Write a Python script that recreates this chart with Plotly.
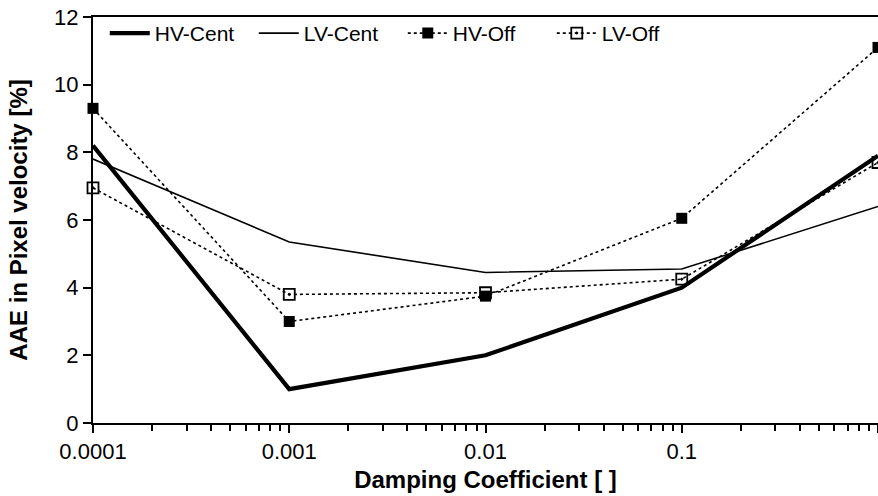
import plotly.graph_objects as go

damping = [0.0001, 0.001, 0.01, 0.1, 1]
x_ticktext = ["0.0001", "0.001", "0.01", "0.1", "1"]
y_ticks = [0, 2, 4, 6, 8, 10, 12]

hv_cent = [8.2, 1.0, 2.0, 4.0, 7.9]
lv_cent = [7.8, 5.35, 4.45, 4.55, 6.4]
hv_off = [9.3, 3.0, 3.75, 6.05, 11.1]
lv_off = [6.95, 3.8, 3.85, 4.25, 7.7]

FONT = "Liberation Sans, Arial, sans-serif"

fig = go.Figure()
fig.add_trace(go.Scatter(x=damping, y=hv_cent, name="HV-Cent", mode="lines",
                         line=dict(color="black", width=4.2), cliponaxis=False))
fig.add_trace(go.Scatter(x=damping, y=lv_cent, name="LV-Cent", mode="lines",
                         line=dict(color="black", width=1.6), cliponaxis=False))
fig.add_trace(go.Scatter(x=damping, y=hv_off, name="HV-Off", mode="lines+markers",
                         line=dict(color="black", width=1.6, dash="dot"),
                         marker=dict(symbol="square", size=11, color="black"),
                         cliponaxis=False))
fig.add_trace(go.Scatter(x=damping, y=lv_off, name="LV-Off", mode="lines+markers",
                         line=dict(color="black", width=1.6, dash="dot"),
                         marker=dict(symbol="square-open-dot", size=11, color="black",
                                     line=dict(width=1.8)),
                         cliponaxis=False))

fig.update_layout(
    width=878, height=496,
    margin=dict(l=93, r=0, t=17, b=73),
    paper_bgcolor="white", plot_bgcolor="white",
    font=dict(family=FONT, size=21, color="black"),
    showlegend=True,
    legend=dict(orientation="h", x=0.015, y=1.01, xanchor="left", yanchor="top",
                bgcolor="rgba(0,0,0,0)", font=dict(size=21), itemwidth=40,
                entrywidth=94, entrywidthmode="pixels", tracegroupgap=0),
    xaxis=dict(type="log", range=[-4, 0], tickvals=damping, ticktext=x_ticktext,
               showgrid=False, zeroline=False, showline=True, linecolor="black",
               linewidth=2, mirror=True, ticks="outside", ticklen=8, tickwidth=1.5,
               tickcolor="black", tickfont=dict(size=22),
               minor=dict(ticks="outside", ticklen=6, tickwidth=1.5, tickcolor="black",
                          dtick="D1", showgrid=False),
               title=dict(text="<b>Damping Coefficient [ ]</b>", font=dict(size=24),
                          standoff=8)),
    yaxis=dict(range=[0, 12], tickvals=y_ticks, showgrid=False, zeroline=False,
               showline=True, linecolor="black", linewidth=2, mirror=False,
               ticks="outside", ticklen=8, tickwidth=1.5, tickcolor="black",
               tickfont=dict(size=22),
               title=dict(text="<b>AAE in Pixel velocity [%]</b>", font=dict(size=24),
                          standoff=20)),
)

fig.write_html("out.html")
